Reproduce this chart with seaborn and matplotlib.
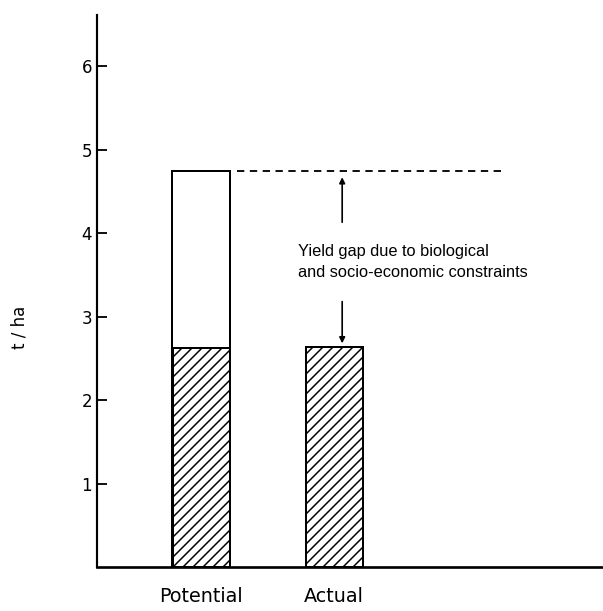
import matplotlib
matplotlib.use("Agg")
import matplotlib.pyplot as plt
import seaborn as sns
import pandas as pd

categories = ["Potential", "Actual"]
potential_yield = [4.75, 0.0]
attained_yield = [2.62, 2.63]
y_ticks = [1, 2, 3, 4, 5, 6]
annotation_text = "Yield gap due to biological\nand socio-economic constraints"

sns.set_style("ticks")
plt.rcParams["hatch.linewidth"] = 0.9
plt.rcParams["font.family"] = ["DejaVu Sans"]
plt.rcParams["text.color"] = "black"
plt.rcParams["axes.labelcolor"] = "black"
plt.rcParams["xtick.color"] = "black"
plt.rcParams["ytick.color"] = "black"
plt.rcParams["axes.edgecolor"] = "black"

DPI = 120
fig = plt.figure(figsize=(603 / DPI, 611 / DPI), dpi=DPI)
ax = fig.add_axes([0.161, 0.072, 0.839, 0.903])

df_pot = pd.DataFrame({"cat": categories, "val": potential_yield})
df_att = pd.DataFrame({"cat": categories, "val": attained_yield})

sns.barplot(data=df_pot, x="cat", y="val", ax=ax, color="white",
            edgecolor="black", linewidth=1.2, width=0.44, errorbar=None)
n_pot = len(ax.patches)
sns.barplot(data=df_att, x="cat", y="val", ax=ax, color="white",
            edgecolor="black", linewidth=1.2, width=0.43, errorbar=None)
for p in ax.patches[:n_pot]:
    if p.get_height() == 0:
        p.set_visible(False)
for p in ax.patches[n_pot:]:
    p.set_hatch("////")

ax.set_xlim(-0.782, 3.02)
ax.set_ylim(0, 6.61)
ax.set_yticks(y_ticks)
ax.set_yticklabels([str(t) for t in y_ticks], fontsize=10)
ax.tick_params(axis="y", direction="in", length=6, width=1.1, pad=3)
ax.tick_params(axis="x", length=0, pad=12)
for lab in ax.get_xticklabels():
    lab.set_fontsize(11.5)
ax.set_xlabel("")
ax.set_ylabel("t / ha", fontsize=10)
ax.yaxis.set_label_coords(-0.135, 0.435)
for s in ["top", "right"]:
    ax.spines[s].set_visible(False)
ax.spines["left"].set_linewidth(1.3)
ax.spines["bottom"].set_linewidth(1.6)

top = potential_yield[0]
ax.plot([0.27, 2.29], [top, top], ls=(0, (4, 3)), color="black", lw=1.1)
ax.annotate("", xy=(1.06, top - 0.08), xytext=(1.06, top - 0.62),
            arrowprops=dict(arrowstyle="-|>", color="black", lw=1.0,
                            mutation_scale=7, shrinkA=0, shrinkB=0))
ax.annotate("", xy=(1.06, attained_yield[1] + 0.05), xytext=(1.06, attained_yield[1] + 0.55),
            arrowprops=dict(arrowstyle="-|>", color="black", lw=1.0,
                            mutation_scale=7, shrinkA=0, shrinkB=0))
ax.text(0.73, 3.65, annotation_text, fontsize=9.8, family="Liberation Sans",
        va="center", ha="left", linespacing=1.5)

fig.savefig("out.png", dpi=DPI)
